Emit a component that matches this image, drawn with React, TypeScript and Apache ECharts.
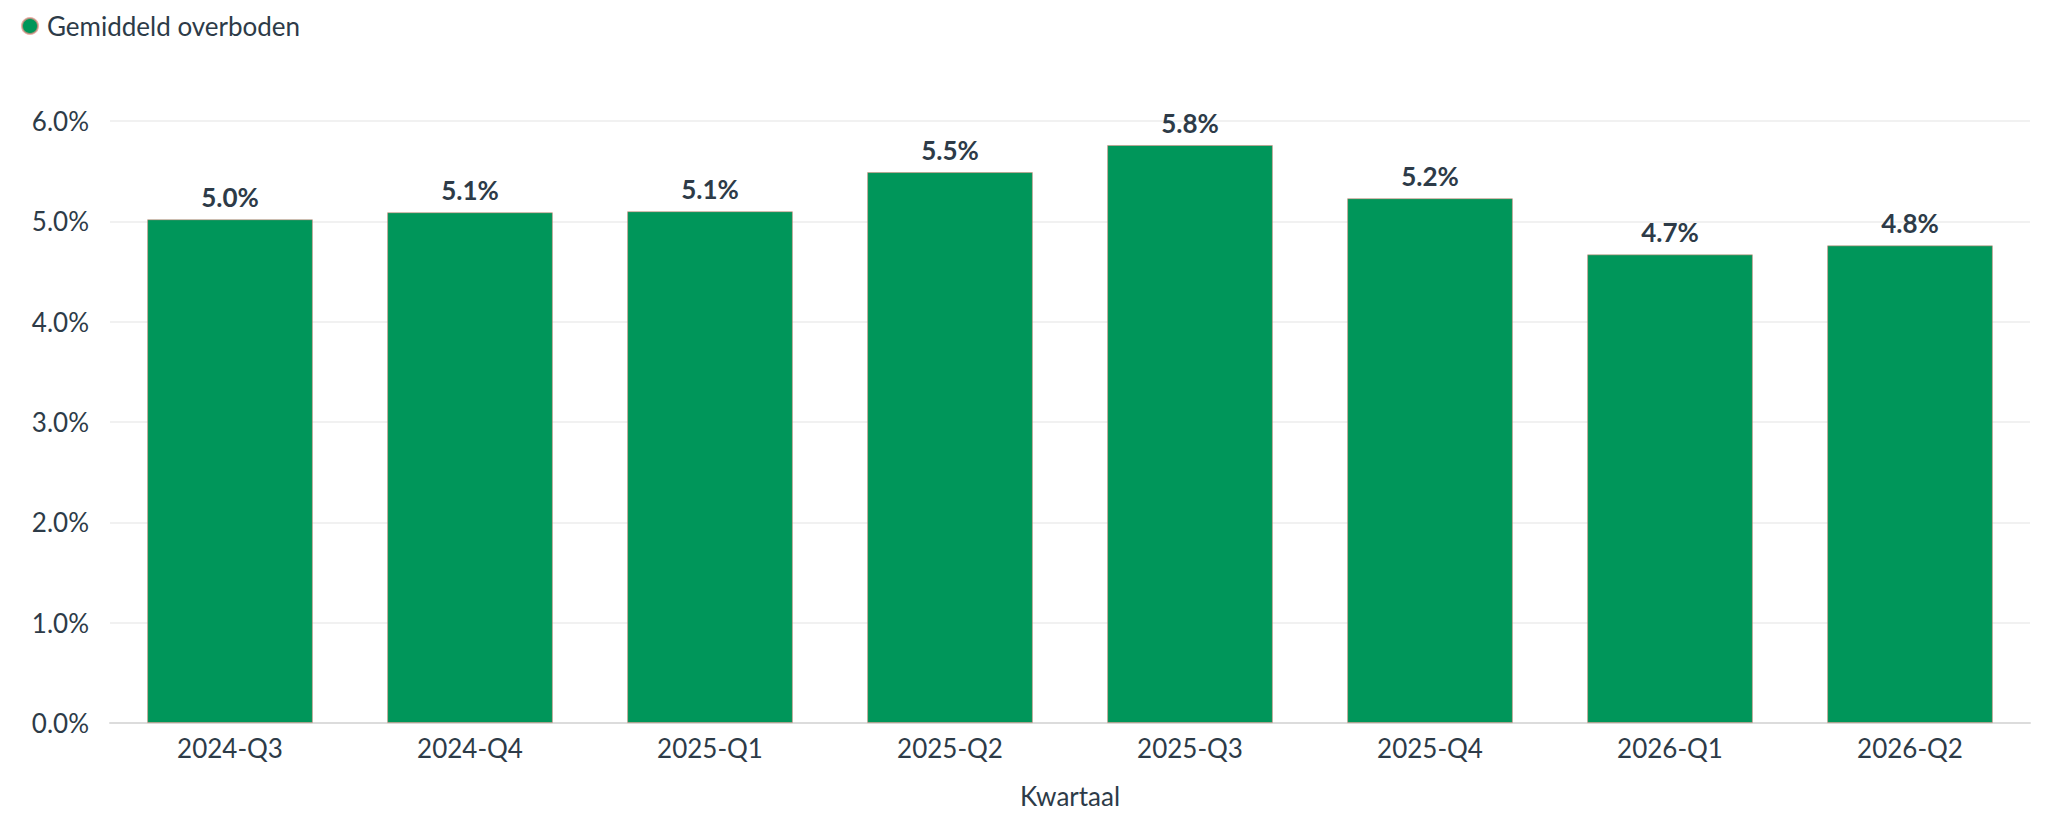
import React, { useEffect, useRef } from "react";
import * as echarts from "echarts";

const categories = ["2024-Q3", "2024-Q4", "2025-Q1", "2025-Q2", "2025-Q3", "2025-Q4", "2026-Q1", "2026-Q2"];
const overbodenValues = [5.02, 5.09, 5.1, 5.49, 5.76, 5.23, 4.67, 4.76];
const seriesName = "Gemiddeld overboden";
const xAxisName = "Kwartaal";

const TEXT = "#2d3b48";
const FONT = "Lato, 'Noto Sans', sans-serif";

export default function App() {
  const ref = useRef<HTMLDivElement>(null);
  useEffect(() => {
    if (!ref.current) return;
    const chart = echarts.init(ref.current, undefined, { renderer: "svg" });
    chart.setOption({
      animation: false,
      textStyle: { fontFamily: FONT },
      legend: {
        show: true,
        left: 16,
        top: 8,
        icon: "circle",
        itemWidth: 16,
        itemHeight: 16,
        textStyle: { color: TEXT, fontSize: 26, fontFamily: FONT, padding: [0, 0, 0, 4] },
        data: [seriesName],
      },
      grid: { left: 110, right: 30, top: 121, bottom: 107, containLabel: false },
      xAxis: {
        type: "category",
        data: categories,
        name: xAxisName,
        nameLocation: "middle",
        nameGap: 60,
        nameTextStyle: { color: TEXT, fontSize: 26, fontFamily: FONT },
        axisLine: { show: true, lineStyle: { color: "#dcdcdc", width: 2 } },
        axisTick: { show: false },
        axisLabel: { color: TEXT, fontSize: 26, margin: 12, fontFamily: FONT },
      },
      yAxis: {
        type: "value",
        min: 0,
        max: 6,
        interval: 1,
        axisLine: { show: false },
        axisTick: { show: false },
        axisLabel: {
          color: TEXT,
          fontSize: 26,
          margin: 21,
          fontFamily: FONT,
          formatter: (v: number) => v.toFixed(1) + "%",
        },
        splitLine: { lineStyle: { color: "#ececec", width: 1.5 } },
      },
      series: [
        {
          name: seriesName,
          type: "bar",
          data: overbodenValues,
          barWidth: "69%",
          itemStyle: { color: "#00965a", borderColor: "rgba(225,140,130,0.7)", borderWidth: 0.8 },
          label: {
            show: true,
            position: "top",
            distance: 9,
            color: TEXT,
            fontSize: 26,
            fontWeight: "bold",
            fontFamily: FONT,
            formatter: (p: any) => Number(p.value).toFixed(1) + "%",
          },
        },
      ],
    });
    return () => chart.dispose();
  }, []);
  return (
    <div
      ref={ref}
      style={{ position: "fixed", left: 0, top: 0, width: 2060, height: 830, background: "#fff" }}
    />
  );
}
